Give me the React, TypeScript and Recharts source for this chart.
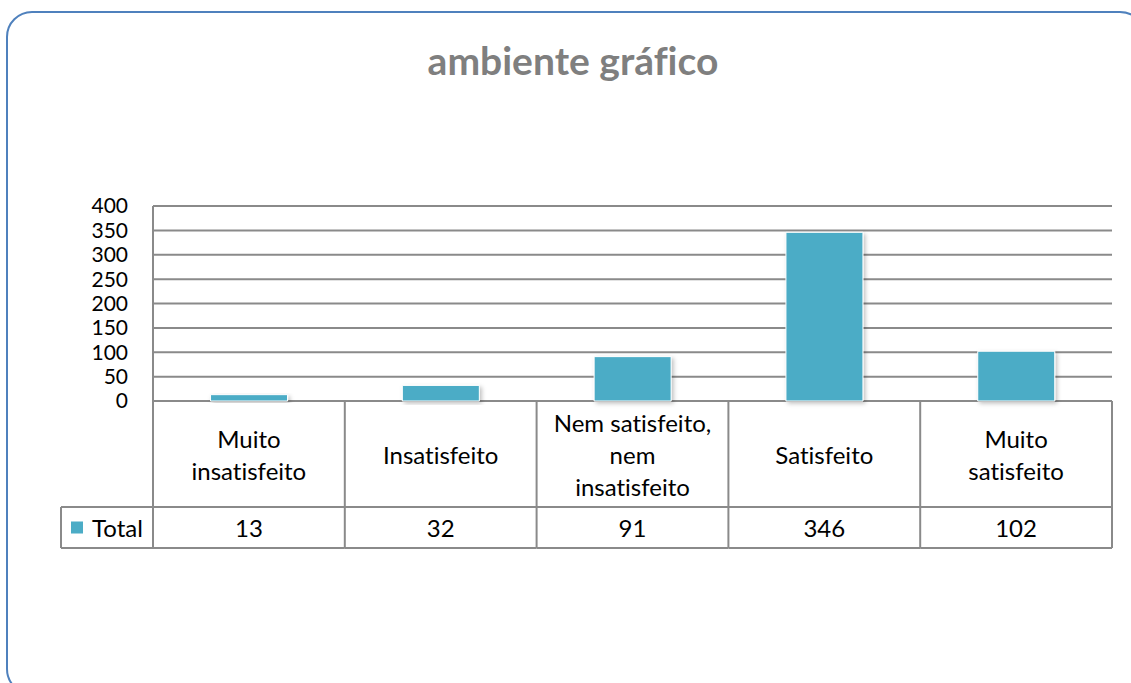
import { Bar, BarChart, CartesianGrid, XAxis, YAxis } from 'recharts';

const categories = [
  'Muito insatisfeito',
  'Insatisfeito',
  'Nem satisfeito, nem insatisfeito',
  'Satisfeito',
  'Muito satisfeito',
];
// wrapped the way the data table shows them
const tickLabels = [
  'Muito\ninsatisfeito',
  'Insatisfeito',
  'Nem satisfeito,\nnem\ninsatisfeito',
  'Satisfeito',
  'Muito\nsatisfeito',
];
const totals = [13, 32, 91, 346, 102];
const yTicks = [0, 50, 100, 150, 200, 250, 300, 350, 400];
const seriesName = 'Total';

const data = categories.map((name, i) => ({ name, total: totals[i] }));

const FONT = 'Lato, "Open Sans", sans-serif';
const BAR = '#4BACC6';
const GRID = '#8a8a8a';
const PLOT_LEFT = 153;
const PLOT_RIGHT = 1112;
const LEGEND_LEFT = 61;
const CAT_ROW_H = 106;
const VAL_ROW_H = 41;
const LINE_H = 32;
const noLig = { fontVariantLigatures: 'none' } as React.CSSProperties;

function TableTick(props: any) {
  const { x, y, index } = props;
  const colW = (PLOT_RIGHT - PLOT_LEFT) / categories.length;
  const left = x - colW / 2;
  const right = x + colW / 2;
  const rowMid = y + CAT_ROW_H / 2;
  const valTop = y + CAT_ROW_H;
  const bottom = valTop + VAL_ROW_H;
  const lines = tickLabels[index].split('\n');

  return (
    <g>
      {lines.map((line, i) => (
        <text
          key={i}
          x={x}
          y={rowMid + (i - (lines.length - 1) / 2) * LINE_H}
          textAnchor="middle"
          dominantBaseline="central"
          fontSize={24}
          fontFamily={FONT}
          fill="#000"
          style={noLig}
        >
          {line}
        </text>
      ))}
      <text
        x={x}
        y={valTop + VAL_ROW_H / 2}
        textAnchor="middle"
        dominantBaseline="central"
        fontSize={24}
        fontFamily={FONT}
        fill="#000"
      >
        {totals[index]}
      </text>
      <line x1={right} y1={y} x2={right} y2={bottom} stroke={GRID} strokeWidth={2} />
      <line x1={left} y1={valTop} x2={right} y2={valTop} stroke={GRID} strokeWidth={2} />
      <line x1={left} y1={bottom} x2={right} y2={bottom} stroke={GRID} strokeWidth={2} />
      {index === 0 && (
        <g>
          <line x1={left} y1={y} x2={left} y2={bottom} stroke={GRID} strokeWidth={2} />
          <line x1={LEGEND_LEFT} y1={valTop} x2={left} y2={valTop} stroke={GRID} strokeWidth={2} />
          <line x1={LEGEND_LEFT} y1={bottom} x2={left} y2={bottom} stroke={GRID} strokeWidth={2} />
          <line x1={LEGEND_LEFT} y1={valTop} x2={LEGEND_LEFT} y2={bottom} stroke={GRID} strokeWidth={2} />
          <rect x={LEGEND_LEFT + 10} y={valTop + VAL_ROW_H / 2 - 6} width={12} height={12} fill={BAR} />
          <text
            x={LEGEND_LEFT + 31}
            y={valTop + VAL_ROW_H / 2}
            dominantBaseline="central"
            fontSize={24}
            fontFamily={FONT}
            fill="#000"
          >
            {seriesName}
          </text>
        </g>
      )}
    </g>
  );
}

export default function App() {
  return (
    <div
      style={{
        position: 'absolute',
        left: 0,
        top: 0,
        width: 1131,
        height: 683,
        overflow: 'hidden',
        background: '#fff',
      }}
    >
      <div
        style={{
          position: 'absolute',
          left: 6,
          top: 11,
          width: 1136,
          height: 680,
          border: '2px solid #4F81BD',
          borderRadius: 26,
        }}
      />
      <div
        style={{
          position: 'absolute',
          left: 0,
          top: 37,
          width: 1146,
          textAlign: 'center',
          fontFamily: FONT,
          fontWeight: 'bold',
          fontSize: 39,
          lineHeight: '46px',
          color: '#7f7f7f',
          fontVariantLigatures: 'none',
        }}
      >
        ambiente gráfico
      </div>
      <div style={{ position: 'absolute', left: 0, top: 0 }}>
        <BarChart
          width={1131}
          height={683}
          data={data}
          margin={{ top: 206, right: 19, bottom: 132, left: 73 }}
          barCategoryGap="30%"
        >
          <defs>
            <filter id="barShadow" x="-20%" y="-20%" width="140%" height="140%">
              <feDropShadow dx="2" dy="2" stdDeviation="2" floodColor="#000" floodOpacity="0.25" />
            </filter>
          </defs>
          <CartesianGrid vertical={false} stroke={GRID} strokeWidth={2} />
          <YAxis
            width={80}
            domain={[0, 400]}
            ticks={yTicks}
            interval={0}
            tickLine={false}
            axisLine={{ stroke: GRID, strokeWidth: 2 }}
            tickMargin={19}
            tick={{ fontSize: 21, fontFamily: FONT, fill: '#000' }}
          />
          <XAxis
            dataKey="name"
            height={150}
            interval={0}
            axisLine={false}
            tickLine={false}
            tickSize={0}
            tickMargin={0}
            tick={<TableTick />}
          />
          <Bar
            dataKey="total"
            name={seriesName}
            fill={BAR}
            stroke="#fff"
            strokeWidth={1}
            filter="url(#barShadow)"
            isAnimationActive={false}
          />
        </BarChart>
      </div>
    </div>
  );
}
